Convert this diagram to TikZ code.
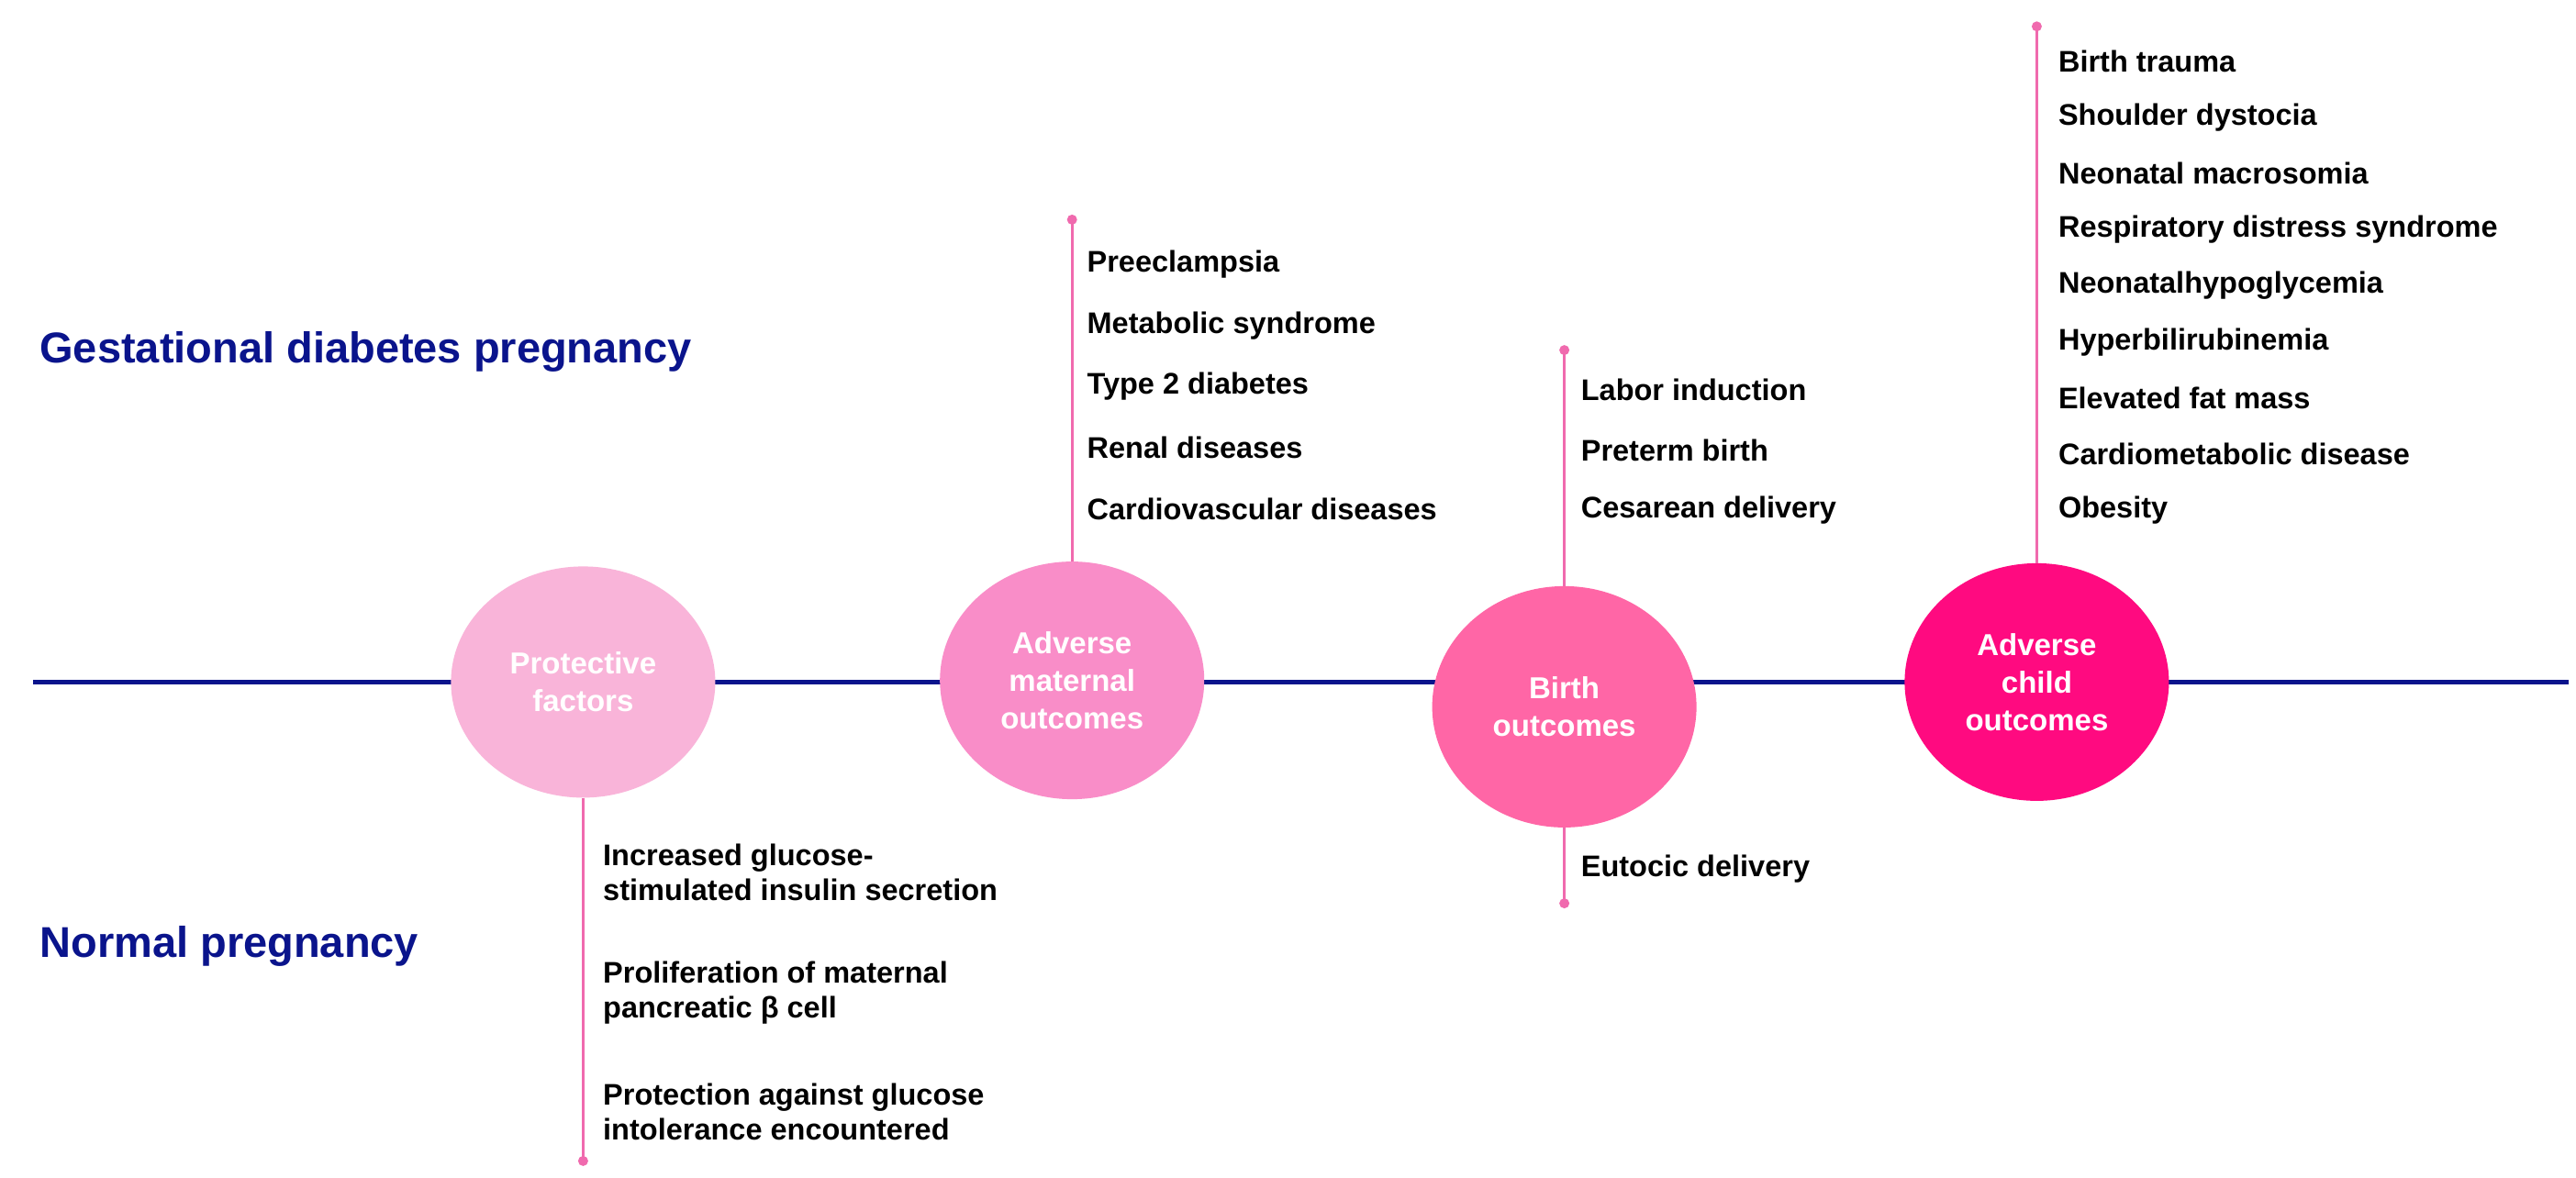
\documentclass[tikz,border=0pt]{standalone}
\usepackage{fontspec}
\setmainfont{Liberation Sans}
\usetikzlibrary{shapes.geometric}
\definecolor{navy}{HTML}{0A148C}
\definecolor{pk}{HTML}{F06AAE}
\definecolor{c1}{HTML}{F9B4D9}
\definecolor{c2}{HTML}{F98DC8}
\definecolor{c3}{HTML}{FF66A6}
\definecolor{c4}{HTML}{FF0A80}
\begin{document}
\begin{tikzpicture}[x=1.8pt,y=-1.8pt,
  item/.style={anchor=west,font=\fontsize{32.5}{38}\selectfont\bfseries,inner sep=0pt,align=left},
  title/.style={anchor=west,font=\fontsize{47}{54}\selectfont\bfseries,text=navy,inner sep=0pt},
  bub/.style={ellipse,draw=none,minimum width=288pt,inner sep=0pt,text=white,align=center,font=\fontsize{33}{41}\selectfont\bfseries},
  stem/.style={draw=pk,line width=3pt},
  dot/.style={circle,fill=pk,inner sep=0pt,minimum size=11pt}]
\useasboundingbox (0,0) rectangle (1559.44,712.78);
\fill[white] (0,0) rectangle (1559.44,712.78);
\coordinate (L) at (20,413); \coordinate (R) at (1555,413);
\draw[navy,line width=5pt] (L) -- (R);
\node[bub,fill=c1,minimum height=252pt] (p) at (353,413) {Protective\\factors};
\node[bub,fill=c2,minimum height=259pt] (m) at (649,412) {Adverse\\maternal\\outcomes};
\node[bub,fill=c3,minimum height=263pt] (b) at (947,428) {Birth\\outcomes};
\node[bub,fill=c4,minimum height=259pt] (c) at (1233,413) {Adverse\\child\\outcomes};
% stems
\node[dot] (pd) at (353,703) {}; \draw[stem] (p.south) -- (pd.center);
\node[dot] (md) at (649,133) {}; \draw[stem] (m.north) -- (md.center);
\node[dot] (bd) at (947,212) {}; \draw[stem] (b.north) -- (bd.center);
\node[dot] (bd2) at (947,547) {}; \draw[stem] (b.south) -- (bd2.center);
\node[dot] (cd) at (1233,16) {}; \draw[stem] (c.north) -- (cd.center);
% titles
\node[title] (t1) at (24,213) {Gestational diabetes pregnancy};
\node[title] (t2) at (24,573) {Normal pregnancy};
% maternal
\foreach \t [count=\i] in {Preeclampsia,Metabolic syndrome,Type 2 diabetes,Renal diseases,Cardiovascular diseases}
  \node[item] (m\i) at (658,{160+37*(\i-1)}) {\t};
% birth
\foreach \t [count=\i] in {Labor induction,Preterm birth,Cesarean delivery}
  \node[item] (b\i) at (957,{236+36.5*(\i-1)}) {\t};
\node[item] (b4) at (957,526) {Eutocic delivery};
% child
\foreach \t [count=\i] in {Birth trauma,Shoulder dystocia,Neonatal macrosomia,Respiratory distress syndrome,Neonatalhypoglycemia,Hyperbilirubinemia,Elevated fat mass,Cardiometabolic disease,Obesity}
  \node[item] (c\i) at (1246,{37+34*(\i-1)}) {\t};
% protective
\node[item] (p1) at (365,528) {Increased glucose-\\stimulated insulin secretion};
\node[item] (p2) at (365,601) {Proliferation of maternal\\pancreatic β cell};
\node[item] (p3) at (365,673) {Protection against glucose\\intolerance encountered};
\end{tikzpicture}
\end{document}
